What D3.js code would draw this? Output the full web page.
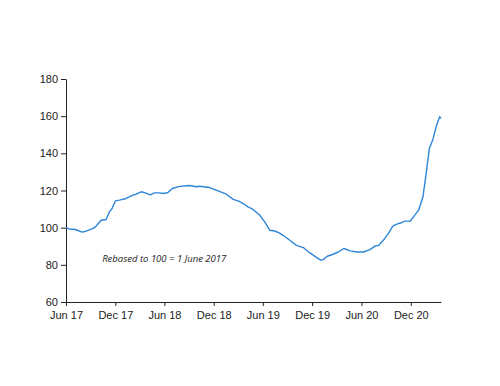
<!DOCTYPE html>
<html>
<head>
<meta charset="utf-8">
<script src="https://cdn.jsdelivr.net/npm/d3@7"></script>
<style>
  body { margin: 0; background: #fff; }
  .axis text { font-family: "Liberation Sans", Arial, sans-serif; font-size: 11px; fill: #222; }
  .axis path, .axis line { stroke: #222; }
</style>
</head>
<body>
<svg id="chart"></svg>
<script>
// index values, rebased to 100 = 1 June 2017
var dates = ["2017-06-01","2017-06-13","2017-07-06","2017-07-31","2017-08-14","2017-09-08","2017-09-18",
  "2017-10-09","2017-10-28","2017-11-09","2017-11-19","2017-12-01","2017-12-16","2018-01-10","2018-02-04",
  "2018-02-16","2018-03-07","2018-03-23","2018-04-09","2018-04-25","2018-05-14","2018-05-29","2018-06-14",
  "2018-06-30","2018-07-27","2018-09-03","2018-09-27","2018-10-10","2018-11-16","2018-12-17","2019-01-17",
  "2019-02-11","2019-03-01","2019-03-20","2019-04-07","2019-04-26","2019-05-21","2019-06-08","2019-06-27",
  "2019-07-15","2019-08-01","2019-08-15","2019-09-09","2019-10-04","2019-10-29","2019-11-23","2019-12-18",
  "2020-01-02","2020-01-11","2020-01-26","2020-02-17","2020-03-07","2020-03-28","2020-04-20","2020-05-14",
  "2020-06-08","2020-07-03","2020-07-22","2020-08-03","2020-08-21","2020-09-09","2020-09-25","2020-10-10",
  "2020-10-29","2020-11-10","2020-11-29","2020-12-11","2020-12-30","2021-01-15","2021-01-27","2021-02-08",
  "2021-02-21","2021-03-05","2021-03-18","2021-03-23"];
var values = [100, 99.3, 99, 97.6, 98.1, 99.5, 100.4,
  104, 104.4, 108.5, 110.3, 114.4, 114.8, 115.7, 117.5,
  118, 119.3, 118.7, 117.7, 118.7, 118.7, 118.4, 118.9,
  121.1, 122.2, 122.7, 122, 122.3, 121.6, 119.8, 118,
  115.2, 114.4, 113, 111.2, 109.8, 106.7, 103.1, 98.6,
  98.2, 97.2, 95.9, 93.2, 90.5, 89.3, 86.4, 83.9,
  82.5, 82.8, 84.6, 85.7, 86.9, 88.8, 87.5, 86.9,
  86.9, 88.2, 90.2, 90.4, 93.2, 96.9, 100.8, 101.9,
  102.8, 103.5, 103.6, 105.8, 109.4, 116.6, 129.2, 142.7,
  147.5, 154.3, 159.7, 158.8];
var yTicks = [60, 80, 100, 120, 140, 160, 180];
var xTicks = ["2017-06-01","2017-12-01","2018-06-01","2018-12-01","2019-06-01","2019-12-01","2020-06-01","2020-12-01"];
var note = "Rebased to 100 = 1 June 2017";

var width = 500, height = 386;
var margin = {top: 79, right: 59, bottom: 84, left: 66};

var parse = d3.timeParse("%Y-%m-%d");
var data = dates.map(function (d, i) { return {date: parse(d), value: values[i]}; });

var svg = d3.select("#chart").attr("width", width).attr("height", height);

var x = d3.scaleTime()
  .domain([parse(dates[0]), parse(dates[dates.length - 1])])
  .range([margin.left, width - margin.right]);
var y = d3.scaleLinear()
  .domain([60, 180])
  .range([height - margin.bottom, margin.top]);

svg.append("g")
  .attr("class", "axis")
  .attr("transform", "translate(" + margin.left + ",0)")
  .call(d3.axisLeft(y).tickValues(yTicks).tickSize(5).tickPadding(3).tickSizeOuter(0));

svg.append("g")
  .attr("class", "axis")
  .attr("transform", "translate(0," + (height - margin.bottom) + ")")
  .call(d3.axisBottom(x).tickValues(xTicks.map(parse)).tickFormat(d3.timeFormat("%b %y"))
    .tickSize(4).tickPadding(5).tickSizeOuter(0));

svg.append("path")
  .datum(data)
  .attr("fill", "none")
  .attr("stroke", "#2E86D9")
  .attr("stroke-width", 1.4)
  .attr("stroke-linejoin", "round")
  .attr("d", d3.line().x(function (d) { return x(d.date); }).y(function (d) { return y(d.value); }));

svg.append("text")
  .attr("x", x(parse("2017-10-13")))
  .attr("y", y(82.8))
  .attr("dominant-baseline", "middle")
  .style("font-family", "'Open Sans', sans-serif")
  .style("font-style", "italic")
  .style("font-size", "9.5px")
  .style("fill", "#222")
  .text(note);
</script>
</body>
</html>
